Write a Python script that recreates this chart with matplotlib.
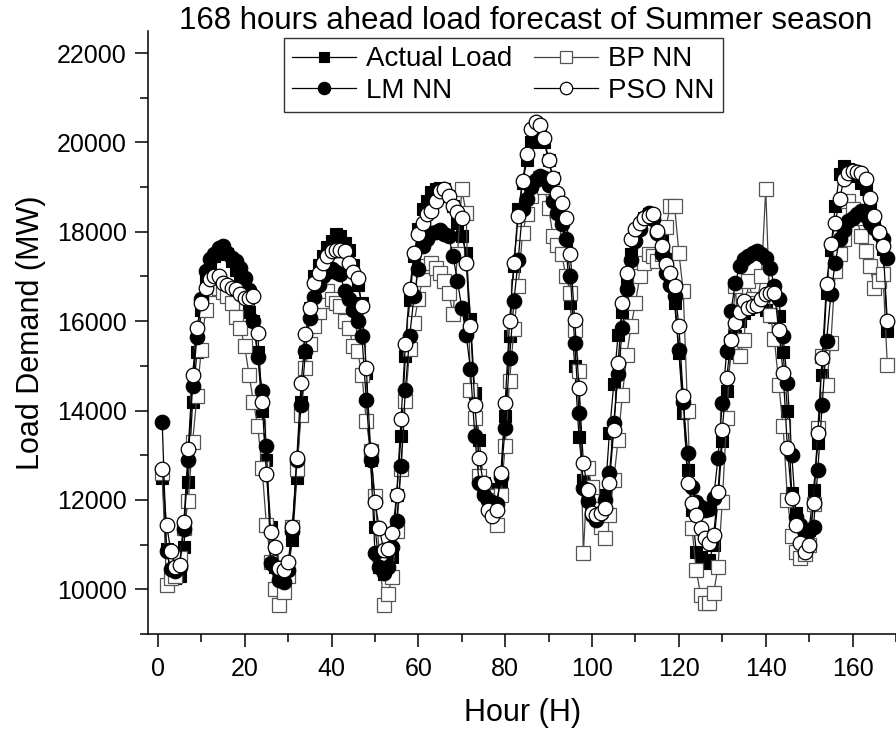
import numpy as np
import matplotlib
matplotlib.use('Agg')
import matplotlib.pyplot as plt
from matplotlib.ticker import MultipleLocator

# Font kiểu Arial
plt.rcParams['font.family'] = ['Liberation Sans', 'DejaVu Sans']

# Dữ liệu (MW), giờ 1..168
hours = np.arange(1, 169)

actual_load = [
    12500, 10900, 10350, 10250, 10300, 10950, 12400, 14200, 15300, 16250, 16950, 17300,
    17450, 17550, 17600, 17500, 17350, 17150, 16950, 16600, 16200, 16000, 15300, 14000,
    12900, 11400, 10500, 10250, 10200, 10450, 11100, 12500, 14200, 15300, 16300, 17000,
    17250, 17450, 17650, 17800, 17950, 17900, 17750, 17600, 17250, 16800, 16400, 14850,
    12900, 11400, 10500, 10350, 10400, 10730, 12100, 13420, 15210, 16480, 17460, 18060,
    18500, 18700, 18880, 18950, 18990, 18950, 18800, 18580, 18200, 17900, 17530, 16040,
    14400, 13350, 12370, 12190, 12150, 12250, 12300, 13870, 15660, 17230, 18500, 19100,
    19600, 20000, 20300, 20250, 20000, 19600, 19200, 18800, 18300, 17700, 16400, 15000,
    13400, 12450, 12000, 11800, 11700, 11800, 12100, 13500, 14600, 15700, 16200, 16900,
    17500, 17900, 18100, 18300, 18400, 18350, 18100, 17800, 17400, 17000, 16400, 15290,
    13945, 12675, 11778, 10844, 10732, 10582, 10650, 10993, 12000, 13310, 14431, 15290,
    15660, 16000, 16187, 16262, 16350, 16400, 16350, 16261, 16112, 16100, 16112, 15300,
    14000, 12151, 11700, 11400, 11250, 11329, 12225, 13272, 14800, 16635, 17600, 18578,
    19288, 19474, 19400, 19350, 19250, 19100, 18951, 18600, 18300, 17980, 17606, 15775,
]

bp_nn = [
    12600, 10100, 10250, 10300, 10700, 11370, 11965, 13300, 14318, 15364, 16261, 16710,
    16800, 16750, 16650, 16560, 16400, 16100, 15850, 15440, 14804, 14200, 13645, 12712,
    11440, 10600, 10000, 9650, 9950, 10300, 11404, 12700, 13908, 14954, 15500, 15900,
    16200, 16450, 16673, 16486, 16400, 16336, 16000, 15850, 15440, 15330, 14800, 13760,
    13090, 12080, 10800, 9650, 9900, 10280, 11300, 12700, 14207, 15370, 15960, 16500,
    16940, 17230, 17310, 17200, 17085, 16900, 16640, 16150, 17500, 18950, 18430, 14470,
    13835, 12530, 12300, 12080, 12000, 11444, 12116, 13200, 14656, 15814, 16786, 17982,
    18400, 18800, 19100, 19200, 19000, 18540, 17905, 17700, 17494, 17000, 16635, 15800,
    14879, 10807, 12713, 12300, 11800, 11400, 11144, 11667, 12451, 13348, 14356, 15252,
    15900, 16411, 17009, 17307, 17494, 17450, 17350, 17500, 18100, 18578, 18578, 17532,
    16672, 14000, 11366, 10432, 9872, 9685, 9685, 9909, 10507, 11964, 13833, 15513,
    16785, 15214, 15588, 16897, 16500, 16400, 17000, 18951, 16149, 15600, 14580, 13646,
    12000, 11200, 10843, 10700, 10800, 11000, 11900, 13608, 15214, 14580, 15513, 17120,
    17500, 17831, 18689, 18500, 18300, 17900, 17569, 17233, 16748, 16900, 17046, 15027,
]

lm_nn = [
    13750, 10850, 10450, 10400, 10500, 11350, 12900, 14550, 15650, 16500, 17121, 17400,
    17494, 17644, 17681, 17532, 17420, 17345, 17200, 16972, 16700, 16000, 15200, 14430,
    13200, 10580, 10500, 10209, 10172, 10430, 11300, 12900, 14130, 15327, 16075, 16550,
    16800, 17000, 17100, 17160, 17100, 17050, 16670, 16500, 16260, 16000, 15660, 14240,
    12900, 10810, 10500, 10360, 10500, 10950, 11520, 12750, 14470, 15670, 16560, 17160,
    17680, 17850, 17980, 18000, 18050, 17950, 17900, 17450, 16900, 16300, 15700, 14920,
    13420, 12370, 12110, 12000, 11950, 11920, 12520, 13610, 15180, 16450, 17380, 18500,
    18730, 19000, 19150, 19250, 19200, 19050, 18700, 18430, 18170, 17830, 17010, 15520,
    13945, 12265, 11966, 11667, 11555, 11700, 12000, 12600, 13720, 14810, 15850, 16710,
    17380, 17800, 18060, 18300, 18430, 18279, 17980, 17500, 17083, 16800, 16560, 15364,
    14200, 13048, 12300, 11964, 11850, 11777, 11800, 12039, 12936, 14169, 15326, 16224,
    16859, 17233, 17400, 17457, 17520, 17569, 17500, 17420, 17196, 16785, 16486, 15663,
    14617, 13000, 11628, 11441, 11254, 11300, 11404, 12674, 14132, 15551, 16598, 17308,
    17831, 18050, 18242, 18300, 18391, 18466, 18354, 18200, 18092, 17960, 17831, 17420,
]

pso_nn = [
    12700, 11450, 10850, 10500, 10550, 11500, 13150, 14800, 15850, 16400, 16750, 16934,
    17000, 17000, 16860, 16800, 16748, 16710, 16598, 16523, 16523, 16560, 15740, 14200,
    12590, 11290, 10950, 10470, 10430, 10600, 11404, 12936, 14619, 15702, 16300, 16860,
    17080, 17300, 17460, 17570, 17600, 17600, 17570, 17300, 17100, 16970, 16340, 14950,
    13120, 11960, 11370, 10880, 10900, 11250, 12110, 13800, 15480, 16710, 17530, 17940,
    18200, 18400, 18470, 18700, 18915, 18952, 18800, 18578, 18450, 18317, 17309, 15890,
    14130, 12930, 12370, 11780, 11630, 11780, 12600, 14170, 16000, 17310, 18350, 19140,
    19740, 20300, 20450, 20400, 20100, 19600, 19200, 18877, 18652, 18316, 17494, 16037,
    14505, 12825, 12228, 11705, 11667, 11700, 11817, 12377, 13572, 15066, 16411, 17083,
    17831, 18055, 18204, 18300, 18353, 18391, 18017, 17681, 17270, 17083, 16785, 15887,
    14318, 12375, 11927, 11665, 11366, 11150, 11030, 11217, 12188, 13571, 14729, 15588,
    15962, 16200, 16448, 16298, 16330, 16373, 16500, 16598, 16635, 16635, 15813, 14850,
    13160, 12039, 11442, 11030, 10843, 10993, 11927, 13497, 15177, 16822, 17718, 18204,
    18727, 19175, 19324, 19362, 19340, 19324, 19175, 18764, 18354, 18000, 17681, 15999,
]

fig = plt.figure(figsize=(8.96, 7.34), dpi=100)
ax = fig.add_axes([148.3 / 896, 100 / 734, 747.7 / 896, 603.3 / 734])

# Các đường dự báo
h_act, = ax.plot(hours, actual_load, color='black', lw=0.9, marker='s', ms=9,
                 mfc='black', mec='black', mew=0.8, label='Actual Load')
h_bp, = ax.plot(hours, bp_nn, color='#444444', lw=0.9, marker='s', ms=9.5,
                mfc='white', mec='#555555', mew=0.9, label='BP NN')
h_lm, = ax.plot(hours, lm_nn, color='black', lw=0.9, marker='o', ms=10.5,
                mfc='black', mec='black', mew=0.8, label='LM NN')
h_pso, = ax.plot(hours, pso_nn, color='black', lw=0.9, marker='o', ms=10.5,
                 mfc='white', mec='black', mew=0.9, label='PSO NN')

ax.set_xlim(-2.2, 170)
ax.set_ylim(9000, 22500)

ax.xaxis.set_major_locator(MultipleLocator(20))
ax.xaxis.set_minor_locator(MultipleLocator(10))
ax.yaxis.set_major_locator(MultipleLocator(2000))
ax.yaxis.set_minor_locator(MultipleLocator(1000))

ax.spines['top'].set_visible(False)
ax.spines['right'].set_visible(False)
for s in ['left', 'bottom']:
    ax.spines[s].set_linewidth(1.1)

ax.tick_params(which='major', direction='out', length=9.5, width=1.1, labelsize=18)
ax.tick_params(which='minor', direction='out', length=5.5, width=1.1)
ax.tick_params(axis='y', which='major', pad=6)
ax.tick_params(axis='x', which='major', pad=7)

ax.set_xlabel('Hour (H)', fontsize=22, labelpad=12)
ax.set_ylabel('Load Demand (MW)', fontsize=22, labelpad=8)

fig.text(526 / 896, 1 - 21 / 734, '168 hours ahead load forecast of Summer season',
         ha='center', va='center', fontsize=22.5)

leg = ax.legend([h_act, h_lm, h_bp, h_pso], ['Actual Load', 'LM NN', 'BP NN', 'PSO NN'],
                ncol=2, loc='upper left', bbox_to_anchor=(0.1815, 0.988),
                borderaxespad=0, fontsize=20, frameon=True, fancybox=False,
                framealpha=1, edgecolor='#333333', borderpad=0.3,
                columnspacing=0.8, handlelength=2.3, handletextpad=0.35,
                labelspacing=0.2, markerscale=0.85)
leg.get_frame().set_linewidth(1.0)

fig.savefig('out.png', dpi=100, facecolor='white')
